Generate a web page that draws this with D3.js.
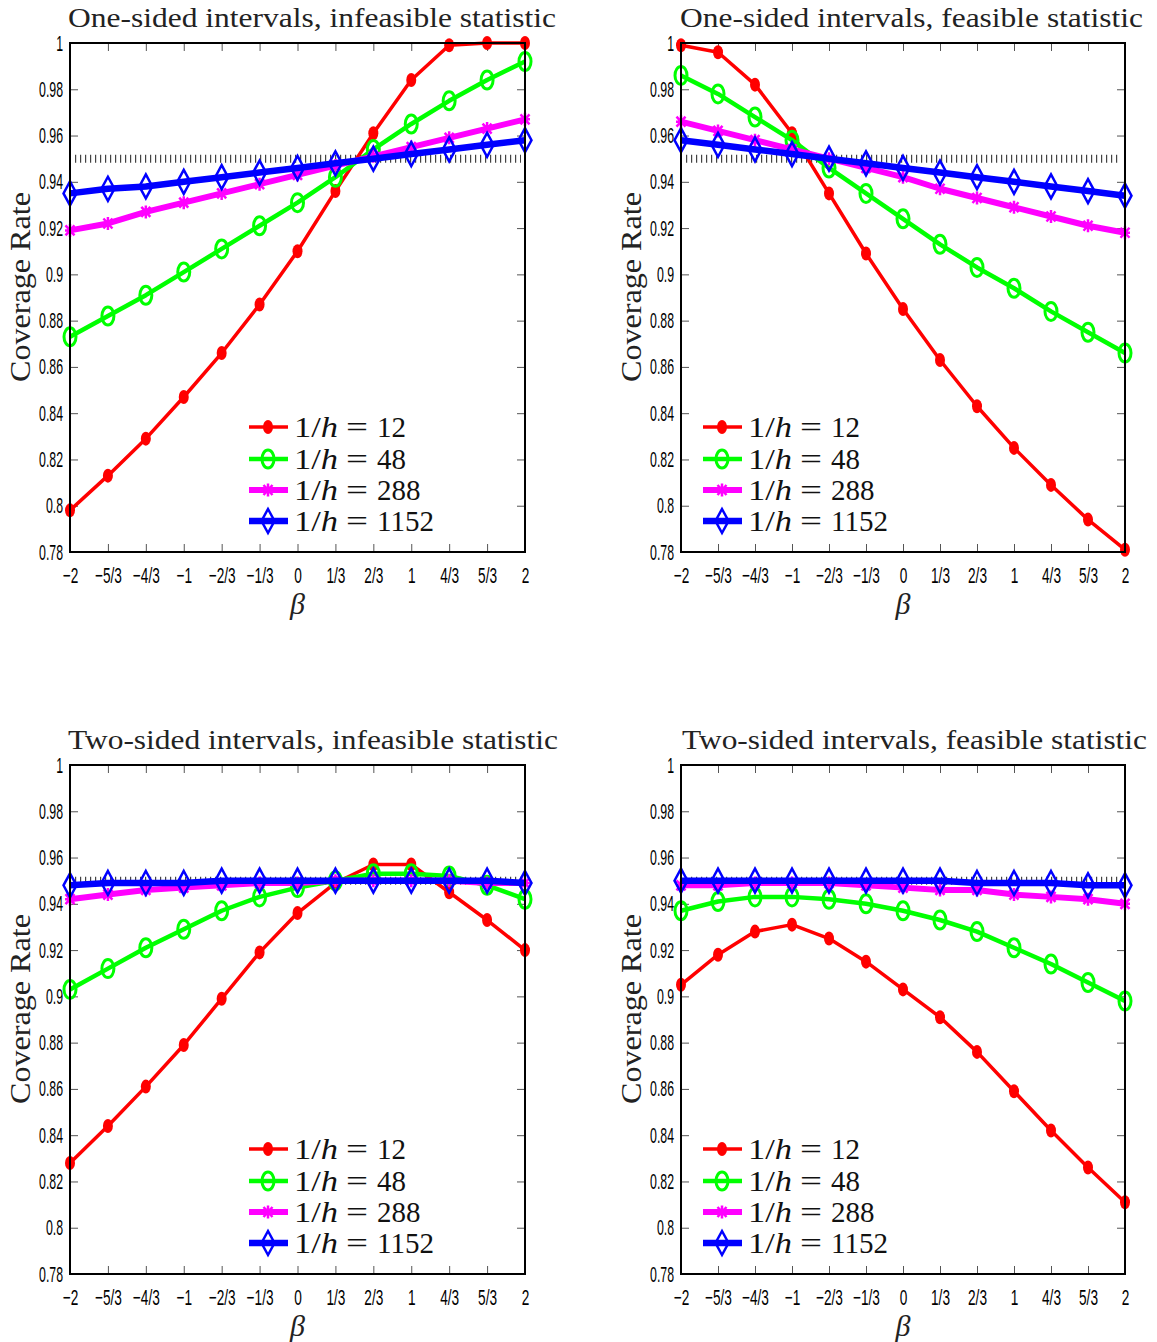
<!DOCTYPE html>
<html>
<head>
<meta charset="utf-8">
<script src="https://cdn.jsdelivr.net/npm/d3@7"></script>
<style>
  body { margin: 0; background: #fff; }
  svg { display: block; }
</style>
</head>
<body>
<svg id="chart" width="1157" height="1342"></svg>
<script>
// beta grid and tick labels
var betaValues = [-2, -5/3, -4/3, -1, -2/3, -1/3, 0, 1/3, 2/3, 1, 4/3, 5/3, 2];
var betaLabels = ["\u22122", "\u22125/3", "\u22124/3", "\u22121", "\u22122/3", "\u22121/3", "0", "1/3", "2/3", "1", "4/3", "5/3", "2"];
var yTicks = [0.78, 0.8, 0.82, 0.84, 0.86, 0.88, 0.9, 0.92, 0.94, 0.96, 0.98, 1];
var yTickLabels = ["0.78", "0.8", "0.82", "0.84", "0.86", "0.88", "0.9", "0.92", "0.94", "0.96", "0.98", "1"];
var nominal = 0.95;
var legendLabels = ["12", "48", "288", "1152"];

// one-sided, infeasible statistic
var oneInf12   = [0.798, 0.813, 0.829, 0.847, 0.866, 0.887, 0.910, 0.936, 0.961, 0.984, 0.999, 1.000, 1.000];
var oneInf48   = [0.873, 0.882, 0.891, 0.901, 0.911, 0.921, 0.931, 0.942, 0.954, 0.965, 0.975, 0.984, 0.992];
var oneInf288  = [0.919, 0.922, 0.927, 0.931, 0.935, 0.939, 0.943, 0.947, 0.951, 0.955, 0.959, 0.963, 0.967];
var oneInf1152 = [0.935, 0.937, 0.938, 0.940, 0.942, 0.944, 0.946, 0.948, 0.950, 0.952, 0.954, 0.956, 0.958];

// one-sided, feasible statistic
var oneFea12   = [0.999, 0.996, 0.982, 0.961, 0.935, 0.909, 0.885, 0.863, 0.843, 0.825, 0.809, 0.794, 0.781];
var oneFea48   = [0.986, 0.978, 0.968, 0.958, 0.946, 0.935, 0.924, 0.913, 0.903, 0.894, 0.884, 0.875, 0.866];
var oneFea288  = [0.966, 0.962, 0.958, 0.954, 0.950, 0.946, 0.942, 0.937, 0.933, 0.929, 0.925, 0.921, 0.918];
var oneFea1152 = [0.958, 0.956, 0.954, 0.952, 0.950, 0.948, 0.946, 0.944, 0.942, 0.940, 0.938, 0.936, 0.934];

// two-sided, infeasible statistic
var twoInf12   = [0.828, 0.844, 0.861, 0.879, 0.899, 0.919, 0.936, 0.949, 0.957, 0.957, 0.945, 0.933, 0.920];
var twoInf48   = [0.903, 0.912, 0.921, 0.929, 0.937, 0.943, 0.947, 0.950, 0.953, 0.953, 0.952, 0.948, 0.942];
var twoInf288  = [0.942, 0.944, 0.946, 0.947, 0.948, 0.949, 0.949, 0.950, 0.950, 0.950, 0.950, 0.949, 0.949];
var twoInf1152 = [0.948, 0.949, 0.949, 0.949, 0.950, 0.950, 0.950, 0.950, 0.950, 0.950, 0.950, 0.950, 0.949];

// two-sided, feasible statistic
var twoFea12   = [0.905, 0.918, 0.928, 0.931, 0.925, 0.915, 0.903, 0.891, 0.876, 0.859, 0.842, 0.826, 0.811];
var twoFea48   = [0.937, 0.941, 0.943, 0.943, 0.942, 0.940, 0.937, 0.933, 0.928, 0.921, 0.914, 0.906, 0.898];
var twoFea288  = [0.948, 0.948, 0.949, 0.949, 0.949, 0.948, 0.947, 0.946, 0.946, 0.944, 0.943, 0.942, 0.940];
var twoFea1152 = [0.950, 0.950, 0.950, 0.950, 0.950, 0.950, 0.950, 0.950, 0.949, 0.949, 0.949, 0.948, 0.948];

// series styles: red dots, green circles, magenta stars, blue diamonds
var styles = [
  {color: "#ff0000", width: 3.5, marker: "dot"},
  {color: "#00ff00", width: 4.5, marker: "circle"},
  {color: "#ff00ff", width: 6, marker: "star"},
  {color: "#0000ff", width: 6.5, marker: "diamond"}
];

var panels = [
  {title: "One-sided intervals, infeasible statistic", left: 70, right: 525, top: 43, titleX: 68, titleW: 488, legendX: 249,
   series: [oneInf12, oneInf48, oneInf288, oneInf1152]},
  {title: "One-sided intervals, feasible statistic", left: 681, right: 1125, top: 43, titleX: 680, titleW: 463, legendX: 703,
   series: [oneFea12, oneFea48, oneFea288, oneFea1152]},
  {title: "Two-sided intervals, infeasible statistic", left: 70, right: 525, top: 765, titleX: 68, titleW: 490, legendX: 249,
   series: [twoInf12, twoInf48, twoInf288, twoInf1152]},
  {title: "Two-sided intervals, feasible statistic", left: 681, right: 1125, top: 765, titleX: 682, titleW: 465, legendX: 703,
   series: [twoFea12, twoFea48, twoFea288, twoFea1152]}
];

var plotHeight = 509;
var serif = "'Liberation Serif', 'Times New Roman', serif";
var sans = "'Liberation Sans', Arial, sans-serif";

var svg = d3.select("#chart");

function drawMarker(g, type, color, cx, cy) {
  if (type == "dot") {
    g.append("ellipse").attr("cx", cx).attr("cy", cy).attr("rx", 5).attr("ry", 7)
      .attr("fill", color);
  } else if (type == "circle") {
    g.append("ellipse").attr("cx", cx).attr("cy", cy).attr("rx", 6).attr("ry", 9)
      .attr("fill", "none").attr("stroke", color).attr("stroke-width", 3);
  } else if (type == "star") {
    var p = "M" + cx + "," + (cy - 6.5) + "V" + (cy + 6.5) +
            "M" + (cx - 4.5) + "," + (cy - 5) + "L" + (cx + 4.5) + "," + (cy + 5) +
            "M" + (cx - 4.5) + "," + (cy + 5) + "L" + (cx + 4.5) + "," + (cy - 5) +
            "M" + (cx - 5) + "," + cy + "H" + (cx + 5);
    g.append("path").attr("d", p).attr("stroke", color).attr("stroke-width", 2.5).attr("fill", "none");
  } else {
    var d = "M" + cx + "," + (cy - 12) + "L" + (cx + 6.5) + "," + cy + "L" + cx + "," + (cy + 12) +
            "L" + (cx - 6.5) + "," + cy + "Z";
    g.append("path").attr("d", d).attr("stroke", color).attr("stroke-width", 2.5).attr("fill", "none");
  }
}

function drawPanel(p) {
  var bottom = p.top + plotHeight;

  var x = d3.scaleLinear().domain([-2, 2]).range([p.left, p.right]);
  var y = d3.scaleLinear().domain([0.78, 1]).range([bottom, p.top]);

  var g = svg.append("g");

  // inward ticks on all four sides
  var tickLen = 8;
  var xBottom = d3.axisBottom(x).tickValues(betaValues).tickSize(-tickLen).tickPadding(15)
    .tickFormat(function(d, i) { return betaLabels[i]; });
  var xTop = d3.axisTop(x).tickValues(betaValues).tickSize(-tickLen).tickFormat("");
  var yLeft = d3.axisLeft(y).tickValues(yTicks).tickSize(-tickLen).tickPadding(7)
    .tickFormat(function(d, i) { return yTickLabels[i]; });
  var yRight = d3.axisRight(y).tickValues(yTicks).tickSize(-tickLen).tickFormat("");

  var axB = g.append("g").attr("transform", "translate(0," + bottom + ")").call(xBottom);
  g.append("g").attr("transform", "translate(0," + p.top + ")").call(xTop);
  var axL = g.append("g").attr("transform", "translate(" + p.left + ",0)").call(yLeft);
  g.append("g").attr("transform", "translate(" + p.right + ",0)").call(yRight);

  g.selectAll(".domain").remove();
  g.selectAll(".tick line").attr("stroke", "#555").attr("stroke-width", 1);

  // condensed tick labels
  var ySquash = 0.56;
  axB.selectAll(".tick text")
    .attr("font-family", sans).attr("font-size", 22).attr("fill", "#000")
    .attr("transform", "scale(0.62,1)");
  axL.selectAll(".tick text")
    .attr("font-family", sans).attr("font-size", 22).attr("fill", "#000")
    .attr("transform", "scale(" + ySquash + ",1)")
    .attr("x", -7 / ySquash);

  // nominal level, drawn as a hatched row
  g.append("line")
    .attr("x1", x(-2) + 5).attr("x2", x(2) - 4)
    .attr("y1", y(nominal)).attr("y2", y(nominal))
    .attr("stroke", "#444").attr("stroke-width", 8)
    .attr("stroke-dasharray", "1.2,3.8");

  // series lines and markers
  p.series.forEach(function(vals, k) {
    var st = styles[k];
    var line = d3.line()
      .x(function(d, i) { return x(betaValues[i]); })
      .y(function(d) { return y(d); });
    g.append("path").datum(vals)
      .attr("d", line)
      .attr("fill", "none")
      .attr("stroke", st.color)
      .attr("stroke-width", st.width)
      .attr("stroke-linejoin", "round");
    vals.forEach(function(v, i) {
      drawMarker(g, st.marker, st.color, x(betaValues[i]), y(v));
    });
  });

  // box
  g.append("rect")
    .attr("x", p.left).attr("y", p.top)
    .attr("width", p.right - p.left).attr("height", plotHeight)
    .attr("fill", "none").attr("stroke", "#000").attr("stroke-width", 2);

  // legend
  var legY = [384, 416, 447, 478];
  legendLabels.forEach(function(lab, k) {
    var st = styles[k];
    var ly = p.top + legY[k];
    var tx = p.legendX + 45;
    g.append("line")
      .attr("x1", p.legendX).attr("x2", p.legendX + 39)
      .attr("y1", ly).attr("y2", ly)
      .attr("stroke", st.color).attr("stroke-width", st.width);
    drawMarker(g, st.marker, st.color, p.legendX + 19, ly);
    var t = g.append("text")
      .attr("x", tx).attr("y", ly + 10)
      .attr("font-family", serif).attr("font-size", 30).attr("fill", "#111")
      .attr("textLength", 44).attr("lengthAdjust", "spacingAndGlyphs");
    t.append("tspan").text("1/");
    t.append("tspan").attr("font-style", "italic").text("h");
    g.append("text")
      .attr("x", tx + 52).attr("y", ly + 10)
      .attr("font-family", serif).attr("font-size", 30).attr("fill", "#111")
      .attr("textLength", 22).attr("lengthAdjust", "spacingAndGlyphs")
      .text("=");
    g.append("text")
      .attr("x", tx + 83).attr("y", ly + 10)
      .attr("font-family", serif).attr("font-size", 29).attr("fill", "#111")
      .text(lab);
  });

  // title
  g.append("text")
    .attr("x", p.titleX).attr("y", p.top - 16)
    .attr("font-family", serif).attr("font-size", 28).attr("fill", "#222")
    .attr("textLength", p.titleW).attr("lengthAdjust", "spacingAndGlyphs")
    .text(p.title);

  // y label
  var ylx = p.left - 40;
  var yly = p.top + 244;
  g.append("text")
    .attr("transform", "translate(" + ylx + "," + yly + ") rotate(-90)")
    .attr("text-anchor", "middle")
    .attr("font-family", serif).attr("font-size", 29).attr("fill", "#222")
    .attr("textLength", 190).attr("lengthAdjust", "spacingAndGlyphs")
    .text("Coverage Rate");

  // x label
  g.append("text")
    .attr("x", (p.left + p.right) / 2).attr("y", bottom + 62)
    .attr("text-anchor", "middle")
    .attr("font-family", serif).attr("font-style", "italic").attr("font-size", 30).attr("fill", "#222")
    .text("\u03b2");
}

panels.forEach(drawPanel);
</script>
</body>
</html>
